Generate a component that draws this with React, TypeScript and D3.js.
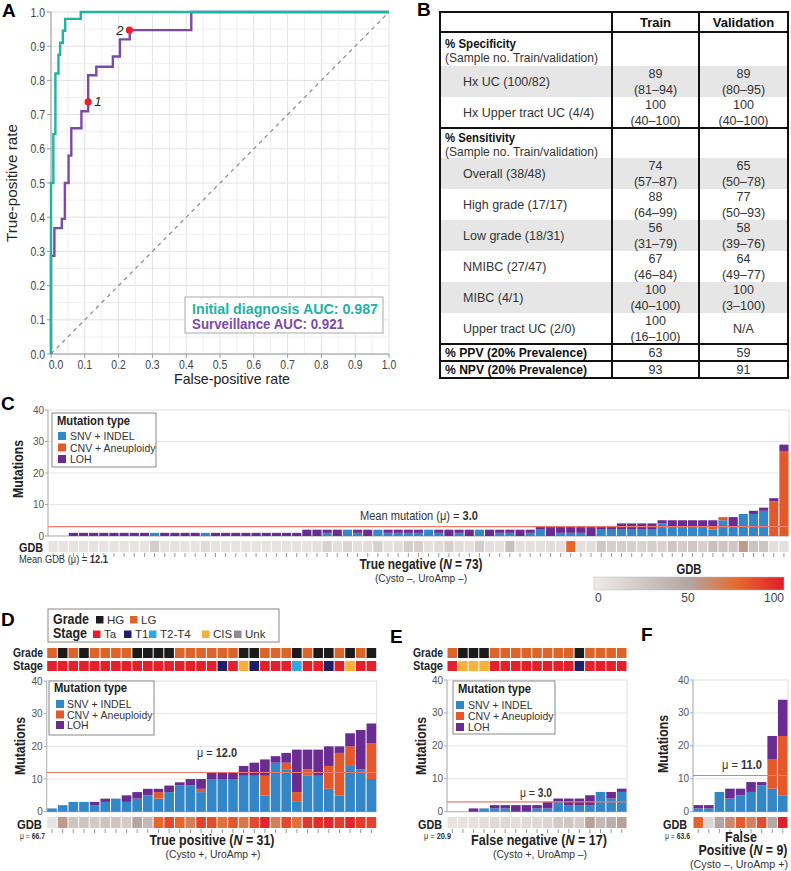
import React from "react";
import * as d3 from "d3";

const FONT = "'Liberation Sans', Arial, Helvetica, sans-serif";

// ---- panel A: ROC curves (FPR / TPR corner points)
const initFpr = [0, 0, 0.007, 0.013, 0.022, 0.027, 0.035, 0.042, 0.088, 1];
const initTpr = [0, 0.5, 0.643, 0.82, 0.875, 0.91, 0.945, 0.98, 1, 1];
const survFpr = [0, 0, 0.01, 0.032, 0.041, 0.052, 0.06, 0.09, 0.11, 0.134, 0.183, 0.204, 0.233, 0.415, 1];
const survTpr = [0, 0.287, 0.368, 0.395, 0.5, 0.58, 0.66, 0.71, 0.815, 0.84, 0.87, 0.92, 0.947, 1, 1];
const cutFpr = [0.11, 0.232];
const cutTpr = [0.737, 0.947];
const cutLabels = ["1", "2"];
const aucLabels = ["Initial diagnosis AUC: 0.987", "Surveillance AUC: 0.921"];

// ---- panel B: table
const specLabels = ["Hx UC (100/82)", "Hx Upper tract UC (4/4)"];
const specTrain = ["89", "100"];
const specTrainCI = ["(81–94)", "(40–100)"];
const specVal = ["89", "100"];
const specValCI = ["(80–95)", "(40–100)"];
const sensLabels = ["Overall (38/48)", "High grade (17/17)", "Low grade (18/31)", "NMIBC (27/47)", "MIBC (4/1)", "Upper tract UC (2/0)"];
const sensTrain = ["74", "88", "56", "67", "100", "100"];
const sensTrainCI = ["(57–87)", "(64–99)", "(31–79)", "(46–84)", "(40–100)", "(16–100)"];
const sensVal = ["65", "77", "58", "64", "100", "N/A"];
const sensValCI = ["(50–78)", "(50–93)", "(39–76)", "(49–77)", "(3–100)", ""];
const ppvVals = ["63", "59"];
const npvVals = ["93", "91"];

// ---- panel C: true negative
const tnSnv = [0, 0, 0, 0, 0, 0, 0, 0, 0, 0, 1, 0, 0, 0, 0, 1, 0, 0, 0, 0, 0, 0, 0, 0, 0,
  0, 0, 1, 0, 2, 1, 0, 2, 1, 1, 1, 1, 2, 1, 0, 1, 0, 2, 0, 1, 1, 0, 1,
  2, 0, 1, 1, 1, 0, 2, 2, 2, 2, 2, 2, 4, 3, 3, 3, 3, 2, 5, 3, 7, 7, 8, 0, 0];
const tnCnv = [0, 0, 0, 0, 0, 0, 0, 0, 0, 0, 0, 0, 0, 0, 0, 0, 0, 0, 0, 0, 0, 0, 0, 0, 0,
  0, 0, 0, 0, 0, 0, 0, 0, 0, 0, 0, 0, 0, 0, 0, 0, 0, 0, 0, 0, 0, 0, 0,
  0, 0, 0, 0, 0, 0, 0, 0, 0, 0, 0, 0, 0, 0, 0, 0, 0, 1, 1, 0, 0, 0, 0, 11, 27];
const tnLoh = [0, 0, 1, 1, 1, 1, 1, 1, 1, 1, 0, 1, 1, 1, 1, 0, 1, 1, 1, 1, 1, 1, 1, 1, 1,
  2, 2, 1, 2, 0, 1, 2, 0, 1, 1, 1, 1, 0, 1, 2, 1, 2, 0, 2, 1, 1, 2, 1,
  1, 3, 2, 2, 2, 3, 1, 1, 2, 2, 2, 2, 1, 2, 2, 2, 2, 2, 0, 3, 0, 1, 1, 1, 2];
const tnGdb = [6, 6, 6, 6, 6, 6, 6, 6, 6, 6, 22, 6, 6, 6, 6, 12, 6, 6, 6, 6, 6, 6, 6, 6, 6,
  6, 8, 18, 8, 16, 8, 10, 20, 8, 10, 22, 20, 8, 12, 20, 10, 8, 22, 8, 8, 32, 8, 8,
  8, 10, 8, 75, 8, 10, 26, 20, 22, 20, 18, 22, 18, 26, 22, 26, 20, 32, 28, 26, 55, 28, 28, 8, 8];

// ---- panel D: true positive
const tpSnv = [1, 2, 3, 3, 2, 3, 4, 3, 4, 5, 4, 6, 8, 8, 6, 10, 10, 10, 11, 11, 5, 15, 13, 3, 11, 11, 7, 5, 14, 13, 10];
const tpCnv = [0, 0, 0, 0, 0, 0, 0, 0, 0, 0, 2, 0, 0, 0, 1, 0, 0, 0, 0, 0, 6, 0, 2, 3, 2, 0, 7, 13, 6, 0, 11];
const tpLoh = [0, 0, 0, 0, 1, 1, 0, 2, 2, 2, 1, 2, 1, 2, 3, 2, 2, 2, 3, 4, 5, 2, 3, 13, 6, 8, 6, 2, 4, 12, 6];
const tpGdb = [5, 55, 28, 28, 24, 28, 28, 24, 50, 36, 76, 86, 76, 66, 88, 85, 72, 82, 70, 86, 98, 66, 86, 72, 92, 95, 97, 90, 98, 90, 88];
const tpGrade = ["LG", "HG", "LG", "HG", "LG", "LG", "LG", "LG", "HG", "HG", "HG", "HG", "LG", "LG", "LG", "LG", "LG", "LG", "HG", "HG", "LG", "LG", "LG", "HG", "LG", "HG", "HG", "LG", "HG", "LG", "HG"];
const tpStage = ["Ta", "Ta", "Ta", "Ta", "Ta", "Ta", "Ta", "Ta", "Ta", "Ta", "Ta", "Ta", "Ta", "Ta", "Ta", "Ta", "T1", "Ta", "CIS", "T1", "Ta", "Ta", "Ta", "T2-T4", "Ta", "Ta", "T1", "Ta", "CIS", "Ta", "Ta"];

// ---- panel E: false negative
const fnSnv = [0, 0, 0, 1, 1, 1, 0, 0, 1, 1, 3, 2, 2, 2, 6, 4, 6];
const fnCnv = [0, 0, 0, 0, 0, 0, 0, 0, 0, 0, 0, 0, 0, 0, 0, 0, 0];
const fnLoh = [0, 0, 1, 0, 1, 1, 2, 2, 1, 2, 1, 2, 2, 3, 0, 2, 1];
const fnGdb = [6, 6, 8, 10, 14, 14, 10, 12, 14, 16, 24, 26, 22, 52, 36, 44, 52];
const fnGrade = ["LG", "HG", "HG", "HG", "LG", "LG", "LG", "LG", "LG", "LG", "LG", "LG", "HG", "LG", "LG", "LG", "LG"];
const fnStage = ["Ta", "CIS", "CIS", "CIS", "Ta", "Ta", "Ta", "Ta", "Ta", "Ta", "Ta", "Ta", "T1", "Ta", "Ta", "Ta", "Ta"];

// ---- panel F: false positive
const fpSnv = [1, 1, 6, 4, 5, 6, 8, 7, 5];
const fpCnv = [0, 0, 0, 0, 0, 0, 0, 9, 18];
const fpLoh = [1, 1, 0, 3, 2, 3, 1, 7, 11];
const fpGdb = [78, 15, 50, 62, 80, 65, 85, 48, 100];

const mutMeans = [3.0, 12.0, 3.0, 11.0];
const gdbMeans = ["12.1", "66.7", "20.9", "63.6"];
const mutTypes = ["SNV + INDEL", "CNV + Aneuploidy", "LOH"];
const gradeKeys = ["HG", "LG"];
const stageKeys = ["Ta", "T1", "T2-T4", "CIS", "Unk"];

const mutColors = ["#3387c7", "#e5582b", "#6a2c91"];
const gradeColors = { HG: "#1b1b1b", LG: "#dd6428" };
const stageColors = { Ta: "#e3202c", T1: "#1f206b", "T2-T4": "#2ea9e0", CIS: "#f9b03a", Unk: "#8e8e8e" };
const gdbDomain = [0, 50, 75, 100];
const gdbRange = ["#efebea", "#b3a6a2", "#e66a2d", "#df1f2b"];
const gdbColor = d3.scaleLinear().domain(gdbDomain).range(gdbRange);

// text squeezed to a fixed width (the original uses a condensed face)
function T({ len, children, ...rest }) {
  return (
    <text textLength={len} lengthAdjust="spacingAndGlyphs" {...rest}>
      {children}
    </text>
  );
}

function StackPanel(props) {
  const { snv, cnv, loh, gdb, grade, stage, x0, x1, yTop, yZero, gdbY, mean, stripY } = props;
  const n = snv.length;
  const x = d3.scaleBand().domain(d3.range(n)).range([x0, x1]);
  const y = d3.scaleLinear().domain([0, 40]).range([yZero, yTop]);
  const bw = x.bandwidth();
  const rows = snv.map((s, i) => ({ snv: s, cnv: cnv[i], loh: loh[i] }));
  const series = d3.stack().keys(["snv", "cnv", "loh"])(rows);
  return (
    <g>
      <rect x={x0} y={yTop} width={x1 - x0} height={yZero - yTop} fill="none" stroke="#dedede" />
      {[10, 20, 30].map((t) => (
        <line key={t} x1={x0} x2={x1} y1={y(t)} y2={y(t)} stroke="#e6e6e6" />
      ))}
      <line x1={x0} x2={x0} y1={yTop} y2={yZero} stroke="#b5b5b5" />
      <line x1={x0} x2={x1} y1={yZero} y2={yZero} stroke="#b5b5b5" />
      {[0, 10, 20, 30, 40].map((t) => (
        <g key={"t" + t}>
          <line x1={x0 - 3} x2={x0} y1={y(t)} y2={y(t)} stroke="#aaa" />
          <text x={x0 - 4} y={y(t) + 3.5} textAnchor="end" fontSize={10} fill="#555">{t}</text>
        </g>
      ))}
      {series.map((s, si) =>
        s.map((d, i) =>
          d[1] > d[0] ? (
            <rect key={si + "-" + i} x={x(i) + 0.5} width={bw - 1} y={y(d[1])} height={y(d[0]) - y(d[1])} fill={mutColors[si]} />
          ) : null
        )
      )}
      <line x1={x0} x2={x1} y1={y(mean)} y2={y(mean)} stroke="#f07a6a" strokeWidth={1.2} />
      {gdb.map((g, i) => (
        <rect key={"g" + i} x={x(i) + 0.5} width={bw - 1} y={gdbY} height={11} fill={gdbColor(g)} />
      ))}
      {gdb.map((g, i) => (
        <line key={"k" + i} x1={x(i) + bw / 2} x2={x(i) + bw / 2} y1={gdbY + 12} y2={gdbY + 16} stroke="#999" />
      ))}
      {grade &&
        grade.map((g, i) => (
          <rect key={"gr" + i} x={x(i) + 0.5} width={bw - 1} y={stripY} height={10} fill={gradeColors[g]} />
        ))}
      {stage &&
        stage.map((g, i) => (
          <rect key={"st" + i} x={x(i) + 0.5} width={bw - 1} y={stripY + 13} height={10} fill={stageColors[g]} />
        ))}
    </g>
  );
}

function MutLegend({ x, y, w, h, rowY, textX, sqX }) {
  return (
    <g>
      <rect x={x} y={y} width={w} height={h} fill="#fff" stroke="#888" />
      <T x={x + 5} y={rowY[0]} len={73} fontSize={13} fontWeight="bold" fill="#222">Mutation type</T>
      {mutTypes.map((m, i) => (
        <g key={m}>
          <rect x={sqX} y={rowY[i + 1] - 8} width={8} height={8} fill={mutColors[i]} />
          <text x={textX} y={rowY[i + 1]} fontSize={10.5} fill="#333">{m}</text>
        </g>
      ))}
    </g>
  );
}

function Roc() {
  const x = d3.scaleLinear().domain([0, 1]).range([51, 389]);
  const y = d3.scaleLinear().domain([0, 1]).range([354, 12]);
  const line = d3.line().x((d) => x(d[0])).y((d) => y(d[1])).curve(d3.curveStepAfter);
  const grid = d3.range(0, 1.0001, 0.05);
  const ticks = d3.range(0, 1.0001, 0.1);
  const initPts = initFpr.map((f, i) => [f, initTpr[i]]);
  const survPts = survFpr.map((f, i) => [f, survTpr[i]]);
  return (
    <g>
      {grid.map((g, i) => (
        <g key={"g" + i}>
          <line x1={x(g)} x2={x(g)} y1={y(0)} y2={y(1)} stroke={i % 2 ? "#efefef" : "#e2e2e2"} />
          <line x1={x(0)} x2={x(1)} y1={y(g)} y2={y(g)} stroke={i % 2 ? "#efefef" : "#e2e2e2"} />
        </g>
      ))}
      <line x1={x(0)} x2={x(0)} y1={y(0)} y2={y(1)} stroke="#999" />
      <line x1={x(0)} x2={x(1)} y1={y(0)} y2={y(0)} stroke="#999" />
      {ticks.map((t, i) => (
        <g key={"t" + i}>
          <line x1={x(0) - 4} x2={x(0)} y1={y(t)} y2={y(t)} stroke="#999" />
          <T x={x(0) - 6} y={y(t) + 4.5} len={14.5} textAnchor="end" fontSize={12.5} fill="#444">{t.toFixed(1)}</T>
          <line x1={x(t)} x2={x(t)} y1={y(0)} y2={y(0) + 4} stroke="#999" />
          <T x={x(t) + (i === 0 ? 5 : 0)} y={369} len={14.5} textAnchor="middle" fontSize={12.5} fill="#444">{t.toFixed(1)}</T>
        </g>
      ))}
      <line x1={x(0)} y1={y(0)} x2={x(1)} y2={y(1)} stroke="#8a8a8a" strokeWidth={1.2} strokeDasharray="4,4" />
      <path d={line(survPts)} fill="none" stroke="#7b4aa6" strokeWidth={2.4} />
      <path d={line(initPts)} fill="none" stroke="#1db3a5" strokeWidth={2.4} />
      {cutFpr.map((f, i) => (
        <g key={"c" + i}>
          <circle cx={x(f)} cy={y(cutTpr[i])} r={3.6} fill="#f0202a" />
          <text x={i === 0 ? x(f) + 6 : x(f) - 6} y={y(cutTpr[i]) + 4.5} textAnchor={i === 0 ? "start" : "end"} fontSize={13} fontStyle="italic" fill="#222">
            {cutLabels[i]}
          </text>
        </g>
      ))}
      <rect x={185} y={297} width={198} height={36} fill="#fff" stroke="#aaa" />
      <T x={192} y={314} len={186} fontSize={14} fontWeight="bold" fill="#1db3a5">{aucLabels[0]}</T>
      <T x={192} y={329} len={152} fontSize={14} fontWeight="bold" fill="#7b4aa6">{aucLabels[1]}</T>
      <T transform="translate(17,183) rotate(-90)" len={118} textAnchor="middle" fontSize={15} fill="#222">True-positive rate</T>
      <T x={232} y={384} len={116} textAnchor="middle" fontSize={15} fill="#222">False-positive rate</T>
    </g>
  );
}

function Table() {
  const L = 440, R = 788, c1 = 612, c2 = 699;
  const m1 = (c1 + c2) / 2, m2 = (c2 + R) / 2;
  const top = 12, headB = 32, specRowTop = 66, rowH = 31, sensHeadTop = 128, sensRowTop = 158;
  const ppvTop = sensRowTop + rowH * 6;
  const npvTop = ppvTop + 17;
  const bottom = npvTop + 17;
  const fs = 12.5;
  const rowBlock = (labels, tr, trCI, va, vaCI, start, grayIdx) =>
    labels.map((lab, i) => {
      const t = start + i * rowH;
      return (
        <g key={lab}>
          {grayIdx.includes(i) && <rect x={L} y={t} width={R - L} height={rowH} fill="#e6e6e6" />}
          <text x={463} y={t + 20} fontSize={fs} fill="#333">{lab}</text>
          <text x={m1} y={t + 12} textAnchor="middle" fontSize={fs} fill="#333">{tr[i]}</text>
          <text x={m1} y={t + 27.5} textAnchor="middle" fontSize={fs} fill="#333">{trCI[i]}</text>
          {vaCI[i] ? (
            <>
              <text x={m2} y={t + 12} textAnchor="middle" fontSize={fs} fill="#333">{va[i]}</text>
              <text x={m2} y={t + 27.5} textAnchor="middle" fontSize={fs} fill="#333">{vaCI[i]}</text>
            </>
          ) : (
            <text x={m2} y={t + 20} textAnchor="middle" fontSize={fs} fill="#333">{va[i]}</text>
          )}
        </g>
      );
    });
  return (
    <g>
      {rowBlock(specLabels, specTrain, specTrainCI, specVal, specValCI, specRowTop, [0])}
      {rowBlock(sensLabels, sensTrain, sensTrainCI, sensVal, sensValCI, sensRowTop, [0, 2, 4])}
      <text x={m1} y={27} textAnchor="middle" fontSize={13} fontWeight="bold" fill="#111">Train</text>
      <text x={m2} y={27} textAnchor="middle" fontSize={13} fontWeight="bold" fill="#111">Validation</text>
      <T x={445} y={48} len={71} fontSize={fs} fontWeight="bold" fill="#111">% Specificity</T>
      <T x={445} y={62} len={153} fontSize={fs} fill="#333">(Sample no. Train/validation)</T>
      <T x={445} y={141.5} len={70} fontSize={fs} fontWeight="bold" fill="#111">% Sensitivity</T>
      <T x={445} y={156} len={153} fontSize={fs} fill="#333">(Sample no. Train/validation)</T>
      <T x={445} y={ppvTop + 13} len={142} fontSize={fs} fontWeight="bold" fill="#111">% PPV (20% Prevalence)</T>
      <text x={m1} y={ppvTop + 13} textAnchor="middle" fontSize={fs} fill="#333">{ppvVals[0]}</text>
      <text x={m2} y={ppvTop + 13} textAnchor="middle" fontSize={fs} fill="#333">{ppvVals[1]}</text>
      <T x={445} y={npvTop + 13} len={142} fontSize={fs} fontWeight="bold" fill="#111">% NPV (20% Prevalence)</T>
      <text x={m1} y={npvTop + 13} textAnchor="middle" fontSize={fs} fill="#333">{npvVals[0]}</text>
      <text x={m2} y={npvTop + 13} textAnchor="middle" fontSize={fs} fill="#333">{npvVals[1]}</text>
      {[headB, sensHeadTop, ppvTop, npvTop].map((yy) => (
        <line key={yy} x1={L} x2={R} y1={yy} y2={yy} stroke="#111" strokeWidth={2} />
      ))}
      <line x1={c1} x2={c1} y1={top} y2={bottom} stroke="#111" strokeWidth={2} />
      <line x1={c2} x2={c2} y1={top} y2={bottom} stroke="#111" strokeWidth={2} />
      <rect x={L} y={top} width={R - L} height={bottom - top} fill="none" stroke="#111" strokeWidth={2} />
    </g>
  );
}

export default function App() {
  const gradient = gdbDomain.map((d, i) => <stop key={d} offset={d + "%"} stopColor={gdbRange[i]} />);
  const sq = (x, y, c) => <rect x={x} y={y} width={7.5} height={7.5} fill={c} />;
  const gradeX = [96, 130];
  const stageX = [93, 124, 149, 202, 234];
  const bold = { fontWeight: "bold", fill: "#222" };
  return (
    <svg width={791} height={871} style={{ position: "absolute", left: 0, top: 0, background: "#fff" }} fontFamily={FONT}>
      <defs>
        <linearGradient id="gdbGrad" x1="0" x2="1" y1="0" y2="0">{gradient}</linearGradient>
      </defs>
      {/* panel letters */}
      <text x={2} y={17} fontSize={19} fontWeight="bold">A</text>
      <text x={417} y={16} fontSize={19} fontWeight="bold">B</text>
      <text x={1} y={410} fontSize={19} fontWeight="bold">C</text>
      <text x={1} y={626} fontSize={19} fontWeight="bold">D</text>
      <text x={390} y={643} fontSize={19} fontWeight="bold">E</text>
      <text x={641} y={641} fontSize={19} fontWeight="bold">F</text>

      <Roc />
      <Table />

      {/* C: true negative */}
      <StackPanel snv={tnSnv} cnv={tnCnv} loh={tnLoh} gdb={tnGdb} x0={48} x1={789} yTop={410} yZero={536} gdbY={541} mean={mutMeans[0]} />
      <MutLegend x={52} y={413} w={104} h={54} rowY={[425, 440, 451.5, 463]} textX={70} sqX={58} />
      <T transform="translate(23,469) rotate(-90)" len={58} textAnchor="middle" fontSize={14} {...bold}>Mutations</T>
      <T x={419} y={520} len={118} textAnchor="middle" fontSize={12} fill="#333">
        Mean mutation (μ) = <tspan fontWeight="bold">{mutMeans[0].toFixed(1)}</tspan>
      </T>
      <T x={43} y={552} len={24} textAnchor="end" fontSize={13} {...bold}>GDB</T>
      <T x={19} y={563} len={89} fontSize={10.5} fill="#333">
        Mean GDB (μ) = <tspan fontWeight="bold">{gdbMeans[0]}</tspan>
      </T>
      <T x={421} y={569} len={123} textAnchor="middle" fontSize={14} {...bold}>
        True negative (<tspan fontStyle="italic">N</tspan> = 73)
      </T>
      <T x={421} y={582} len={92} textAnchor="middle" fontSize={11} fill="#333">(Cysto –, UroAmp –)</T>
      <T x={689} y={574} len={25} textAnchor="middle" fontSize={14} {...bold}>GDB</T>
      <rect x={594} y={577} width={190} height={13} fill="url(#gdbGrad)" stroke="#bbb" strokeWidth={0.5} />
      <text x={595} y={602} fontSize={12} fill="#444">0</text>
      <text x={688} y={602} textAnchor="middle" fontSize={12} fill="#444">50</text>
      <text x={784} y={602} textAnchor="end" fontSize={12} fill="#444">100</text>

      {/* D legend for grade / stage */}
      <rect x={48} y={609} width={231} height={33} fill="#fff" stroke="#888" />
      <T x={53} y={624} len={36} fontSize={14} {...bold}>Grade</T>
      {gradeKeys.map((g, i) => (
        <g key={g}>
          {sq(gradeX[i], 616, gradeColors[g])}
          <text x={gradeX[i] + 11} y={624} fontSize={11.5} fill="#333">{g}</text>
        </g>
      ))}
      <T x={53} y={638} len={34} fontSize={14} {...bold}>Stage</T>
      {stageKeys.map((g, i) => (
        <g key={g}>
          {sq(stageX[i], 630.5, stageColors[g])}
          <text x={stageX[i] + 11} y={638} fontSize={11.5} fill="#333">{g}</text>
        </g>
      ))}

      {/* D: true positive */}
      <StackPanel snv={tpSnv} cnv={tpCnv} loh={tpLoh} gdb={tpGdb} grade={tpGrade} stage={tpStage} stripY={648} x0={46.7} x1={376.7} yTop={681} yZero={811.7} gdbY={817} mean={mutMeans[1]} />
      <T x={43} y={657} len={30} textAnchor="end" fontSize={13} {...bold}>Grade</T>
      <T x={43} y={670} len={30} textAnchor="end" fontSize={13} {...bold}>Stage</T>
      <MutLegend x={49} y={681} w={105} h={54} rowY={[692, 708, 718.5, 729]} textX={67} sqX={56} />
      <T transform="translate(25,746) rotate(-90)" len={58} textAnchor="middle" fontSize={14} {...bold}>Mutations</T>
      <T x={217} y={757} len={40} textAnchor="middle" fontSize={12} fill="#333">
        μ = <tspan fontWeight="bold">{mutMeans[1].toFixed(1)}</tspan>
      </T>
      <T x={42} y={829} len={25} textAnchor="end" fontSize={13} {...bold}>GDB</T>
      <T x={20} y={839} len={25} fontSize={9} fill="#333">
        μ = <tspan fontWeight="bold">{gdbMeans[1]}</tspan>
      </T>
      <T x={212} y={845} len={125} textAnchor="middle" fontSize={14} {...bold}>
        True positive (<tspan fontStyle="italic">N</tspan> = 31)
      </T>
      <T x={213} y={858} len={95} textAnchor="middle" fontSize={11} fill="#333">(Cysto +, UroAmp +)</T>

      {/* E: false negative */}
      <StackPanel snv={fnSnv} cnv={fnCnv} loh={fnLoh} gdb={fnGdb} grade={fnGrade} stage={fnStage} stripY={648} x0={447} x1={627} yTop={680} yZero={811.7} gdbY={817} mean={mutMeans[2]} />
      <T x={443} y={657} len={30} textAnchor="end" fontSize={13} {...bold}>Grade</T>
      <T x={443} y={670} len={30} textAnchor="end" fontSize={13} {...bold}>Stage</T>
      <MutLegend x={453} y={681} w={102} h={53} rowY={[693, 709, 720, 731]} textX={468} sqX={456} />
      <T transform="translate(426,746) rotate(-90)" len={58} textAnchor="middle" fontSize={14} {...bold}>Mutations</T>
      <T x={536} y={797} len={32} textAnchor="middle" fontSize={12} fill="#333">
        μ = <tspan fontWeight="bold">{mutMeans[2].toFixed(1)}</tspan>
      </T>
      <T x={442} y={829} len={24} textAnchor="end" fontSize={13} {...bold}>GDB</T>
      <T x={424} y={839} len={27} fontSize={9} fill="#333">
        μ = <tspan fontWeight="bold">{gdbMeans[2]}</tspan>
      </T>
      <T x={539} y={845} len={136} textAnchor="middle" fontSize={14} {...bold}>
        False negative (<tspan fontStyle="italic">N</tspan> = 17)
      </T>
      <T x={540} y={858} len={94} textAnchor="middle" fontSize={11} fill="#333">(Cysto +, UroAmp –)</T>

      {/* F: false positive */}
      <StackPanel snv={fpSnv} cnv={fpCnv} loh={fpLoh} gdb={fpGdb} x0={693} x1={788} yTop={680} yZero={811.7} gdbY={817} mean={mutMeans[3]} />
      <T transform="translate(668,744) rotate(-90)" len={58} textAnchor="middle" fontSize={14} {...bold}>Mutations</T>
      <T x={742} y={769} len={40} textAnchor="middle" fontSize={12} fill="#333">
        μ = <tspan fontWeight="bold">{mutMeans[3].toFixed(1)}</tspan>
      </T>
      <T x={687} y={829} len={24} textAnchor="end" fontSize={13} {...bold}>GDB</T>
      <T x={665} y={839} len={25} fontSize={9} fill="#333">
        μ = <tspan fontWeight="bold">{gdbMeans[3]}</tspan>
      </T>
      <T x={741} y={842} len={32} textAnchor="middle" fontSize={14} {...bold}>False</T>
      <T x={743} y={855} len={89} textAnchor="middle" fontSize={14} {...bold}>
        Positive (<tspan fontStyle="italic">N</tspan> = 9)
      </T>
      <T x={739} y={868} len={98} textAnchor="middle" fontSize={11} fill="#333">(Cysto –, UroAmp +)</T>
    </svg>
  );
}
